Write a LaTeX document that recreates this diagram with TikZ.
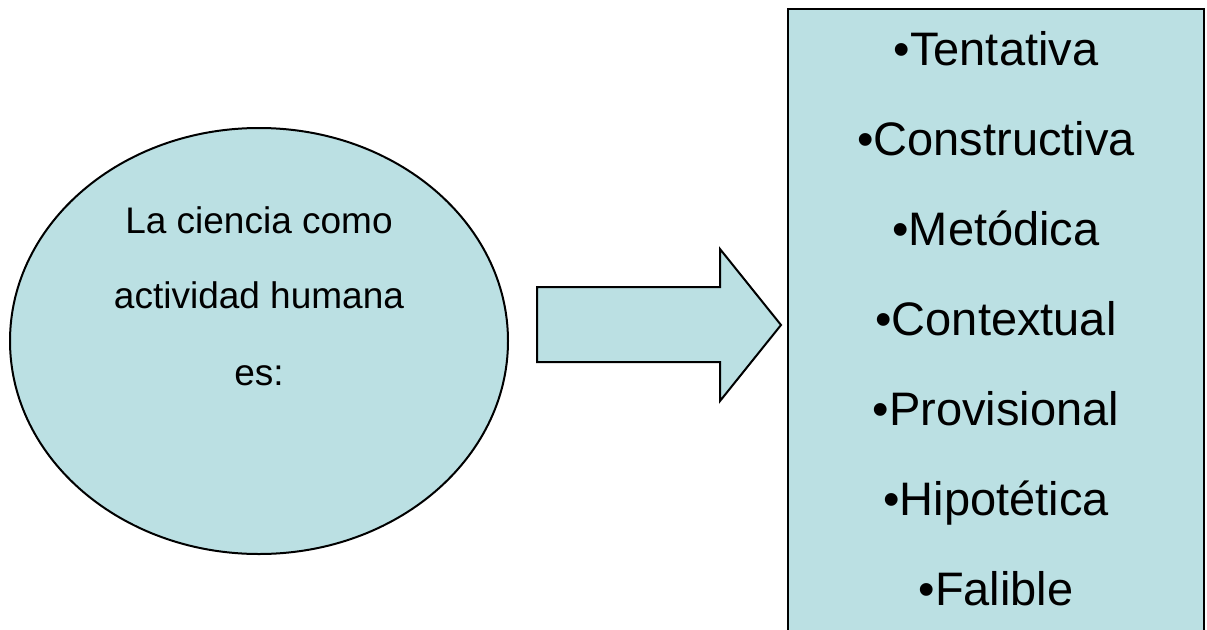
\documentclass[tikz,border=0pt]{standalone}
\usepackage{fontspec}
\setmainfont{Liberation Sans}
\definecolor{boxfill}{HTML}{BBE0E3}
\tikzset{
  shapestyle/.style={fill=boxfill, draw=black, line width=2pt},
  smalltext/.style={anchor=base, inner sep=0pt, font=\fontsize{37}{40}\selectfont},
  bigtext/.style={anchor=base, inner sep=0pt, font=\fontsize{47}{50}\selectfont},
}
\begin{document}
\begin{tikzpicture}[x=1pt, y=-1pt]
\useasboundingbox (0,0) rectangle (1207,629);
% ellipse
\draw[shapestyle] (259,341) ellipse [x radius=249, y radius=213];
\node[smalltext] (t1) at (259,233) {La ciencia como};
\node[smalltext] (t2) at (259,308) {actividad humana};
\node[smalltext] (t3) at (259,385) {es:};
% block arrow
\draw[shapestyle, line join=miter] (537,287) -- (720,287) -- (720,249) -- (781,325) -- (720,401) -- (720,362) -- (537,362) -- cycle;
% box
\draw[shapestyle] (788,9) rectangle (1204,660);
\node[bigtext] (b1) at (996,65) {•Tentativa};
\node[bigtext] (b2) at (996,155) {•Constructiva};
\node[bigtext] (b3) at (996,245) {•Metódica};
\node[bigtext] (b4) at (996,335) {•Contextual};
\node[bigtext] (b5) at (996,425) {•Provisional};
\node[bigtext] (b6) at (996,515) {•Hipotética};
\node[bigtext] (b7) at (996,605) {•Falible};
\end{tikzpicture}
\end{document}
